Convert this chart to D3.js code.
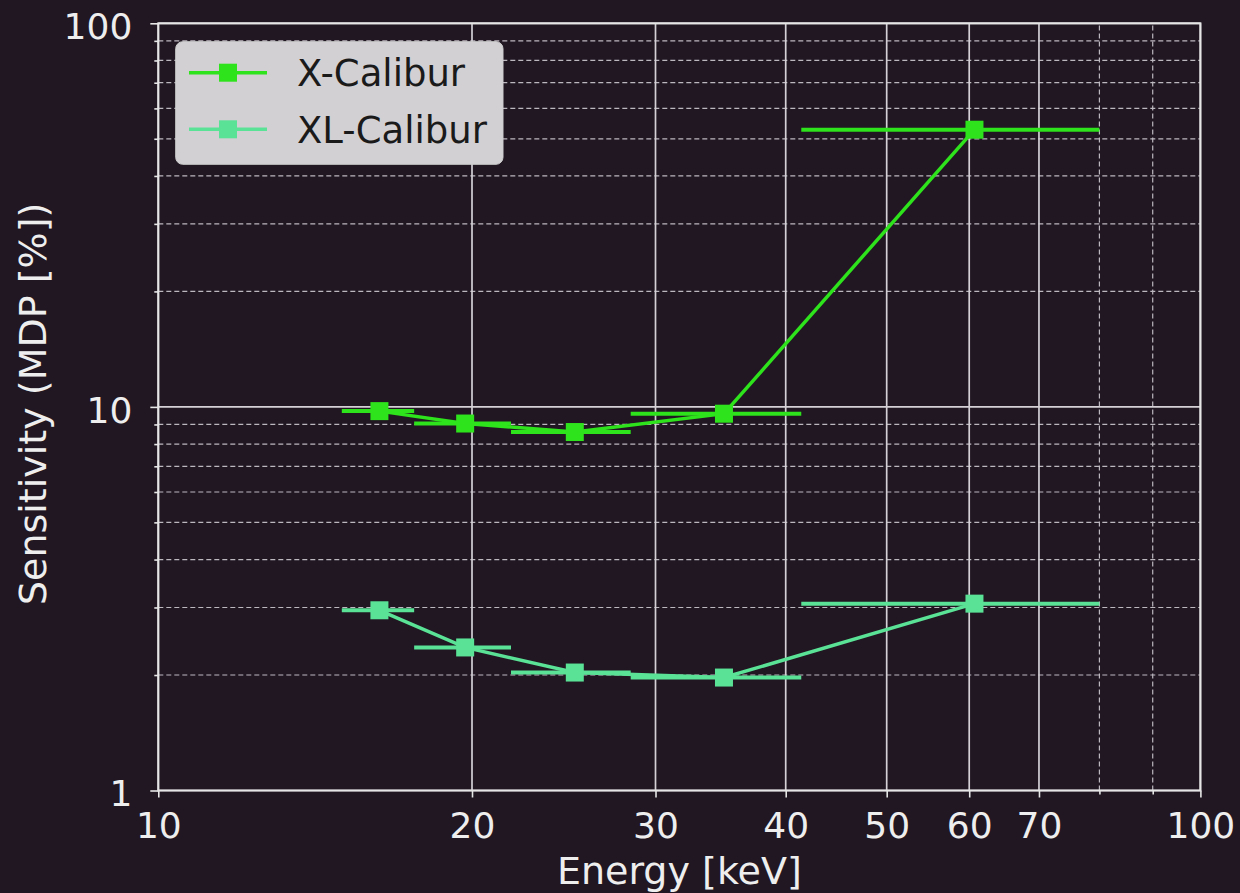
<!DOCTYPE html>
<html>
<head>
<meta charset="utf-8">
<script src="https://cdn.jsdelivr.net/npm/d3@7"></script>
<style>
  body { margin: 0; background: #201722; }
  svg text { font-family: "DejaVu Sans", sans-serif; }
</style>
</head>
<body>
<svg id="chart" width="1240" height="893"></svg>
<script>
// energy bins (keV) and bin centres
const binLo  = [15.0, 17.6, 21.8, 28.4, 41.4];
const binHi  = [17.6, 21.8, 28.4, 41.4, 80.0];
const energy = [16.3, 19.7, 25.1, 34.9, 60.7];

// MDP values [%]
const mdpX  = [9.75, 9.05, 8.6, 9.6, 52.8];
const mdpXL = [2.95, 2.36, 2.03, 1.97, 3.07];

const seriesNames = ["X-Calibur", "XL-Calibur"];

// tick values
const xMajor = [10, 20, 30, 40, 50, 60, 70, 100];
const xMinor = [80, 90];
const yMajor = [1, 10, 100];
const yMinor = [2, 3, 4, 5, 6, 7, 8, 9, 20, 30, 40, 50, 60, 70, 80, 90];

const colors = ["#2ee21c", "#5ae296"];
const tickFont = 36, labelFont = 38, legendFont = 37;
const margin = {top: 23.3, right: 39.6, bottom: 102.5, left: 158.3};

let svg = d3.select("svg#chart");
let width = +svg.attr("width"), height = +svg.attr("height");

let x = d3.scaleLog().domain([10, 100]).range([margin.left, width - margin.right]);
let y = d3.scaleLog().domain([1, 100]).range([height - margin.bottom, margin.top]);

function drawGrid(g) {
  g.selectAll("line.yminor").data(yMinor).enter().append("line")
    .attr("class", "yminor")
    .attr("x1", x.range()[0]).attr("x2", x.range()[1])
    .attr("y1", function(d) { return y(d); }).attr("y2", function(d) { return y(d); })
    .attr("stroke", "#bdb8bf").attr("stroke-width", 1.2).attr("stroke-dasharray", "5,3");

  g.selectAll("line.xminor").data(xMinor).enter().append("line")
    .attr("class", "xminor")
    .attr("y1", y.range()[0]).attr("y2", y.range()[1])
    .attr("x1", function(d) { return x(d); }).attr("x2", function(d) { return x(d); })
    .attr("stroke", "#bdb8bf").attr("stroke-width", 1.2).attr("stroke-dasharray", "5,3");

  g.selectAll("line.ymajor").data(yMajor).enter().append("line")
    .attr("class", "ymajor")
    .attr("x1", x.range()[0]).attr("x2", x.range()[1])
    .attr("y1", function(d) { return y(d); }).attr("y2", function(d) { return y(d); })
    .attr("stroke", "#d4d0d6").attr("stroke-width", 1.7);

  g.selectAll("line.xmajor").data(xMajor).enter().append("line")
    .attr("class", "xmajor")
    .attr("y1", y.range()[0]).attr("y2", y.range()[1])
    .attr("x1", function(d) { return x(d); }).attr("x2", function(d) { return x(d); })
    .attr("stroke", "#d4d0d6").attr("stroke-width", 1.7);
}

function styleAxis(g) {
  g.select(".domain").remove();
  g.selectAll(".tick line").attr("stroke", "#e6e6e6").attr("stroke-width", 1.6);
  g.selectAll(".tick text").attr("fill", "#eeeeee").style("font-size", tickFont + "px");
}

function drawAxes() {
  let fmt = d3.format("d");

  svg.append("g")
    .attr("transform", "translate(0," + y.range()[0] + ")")
    .call(d3.axisBottom(x).tickValues(xMinor).tickSize(4).tickFormat(""))
    .call(styleAxis);

  svg.append("g")
    .attr("transform", "translate(0," + y.range()[0] + ")")
    .call(d3.axisBottom(x).tickValues(xMajor).tickSize(7).tickPadding(14.6).tickFormat(fmt))
    .call(styleAxis);

  svg.append("g")
    .attr("transform", "translate(" + x.range()[0] + ",0)")
    .call(d3.axisLeft(y).tickValues(yMinor).tickSize(4).tickFormat(""))
    .call(styleAxis);

  svg.append("g")
    .attr("transform", "translate(" + x.range()[0] + ",0)")
    .call(d3.axisLeft(y).tickValues(yMajor).tickSize(8).tickPadding(18).tickFormat(fmt))
    .call(styleAxis)
    .selectAll(".tick text").attr("dy", "0.42em");

  // spines
  svg.append("rect")
    .attr("x", x.range()[0]).attr("y", y.range()[1])
    .attr("width", x.range()[1] - x.range()[0])
    .attr("height", y.range()[0] - y.range()[1])
    .attr("fill", "none").attr("stroke", "#e6e6e6").attr("stroke-width", 2);

  svg.append("text")
    .attr("x", (x.range()[0] + x.range()[1]) / 2)
    .attr("y", 884)
    .attr("text-anchor", "middle")
    .attr("fill", "#eeeeee")
    .style("font-size", labelFont + "px")
    .text("Energy [keV]");

  svg.append("text")
    .attr("transform", "translate(46," + ((y.range()[0] + y.range()[1]) / 2 - 3) + ") rotate(-90)")
    .attr("text-anchor", "middle")
    .attr("fill", "#eeeeee")
    .style("font-size", labelFont + "px")
    .text("Sensitivity (MDP [%])");
}

function drawSeries(values, color) {
  let data = values.map(function(v, i) {
    return {e: energy[i], lo: binLo[i], hi: binHi[i], v: v};
  });
  let g = svg.append("g");

  let line = d3.line()
    .x(function(d) { return x(d.e); })
    .y(function(d) { return y(d.v); });

  g.append("path").datum(data)
    .attr("d", line)
    .attr("fill", "none")
    .attr("stroke", color)
    .attr("stroke-width", 3.5);

  g.selectAll("line.err").data(data).enter().append("line")
    .attr("class", "err")
    .attr("x1", function(d) { return x(d.lo); })
    .attr("x2", function(d) { return x(d.hi); })
    .attr("y1", function(d) { return y(d.v); })
    .attr("y2", function(d) { return y(d.v); })
    .attr("stroke", color)
    .attr("stroke-width", 4);

  g.selectAll("rect").data(data).enter().append("rect")
    .attr("x", function(d) { return x(d.e) - 9; })
    .attr("y", function(d) { return y(d.v) - 9; })
    .attr("width", 18).attr("height", 18)
    .attr("fill", color);
}

function drawLegend() {
  let lg = svg.append("g").attr("class", "legend");
  lg.append("rect")
    .attr("x", 175.7).attr("y", 41.7)
    .attr("width", 327.3).attr("height", 122.6)
    .attr("rx", 7).attr("ry", 7)
    .attr("fill", "#d3d0d3")
    .attr("stroke", "#cccccc").attr("stroke-width", 1);

  let items = lg.selectAll("g.item").data(seriesNames).enter().append("g")
    .attr("class", "item")
    .attr("transform", function(d, i) { return "translate(0," + (72.7 + 56.6 * i) + ")"; });

  items.append("line")
    .attr("x1", 189).attr("x2", 267).attr("y1", 0).attr("y2", 0)
    .attr("stroke", function(d, i) { return colors[i]; })
    .attr("stroke-width", 3.5);

  items.append("rect")
    .attr("x", 219).attr("y", -9).attr("width", 18).attr("height", 18)
    .attr("fill", function(d, i) { return colors[i]; });

  items.append("text")
    .attr("x", 297).attr("y", 13.5)
    .attr("fill", "#1a1a1a")
    .style("font-size", legendFont + "px")
    .text(function(d) { return d; });
}

drawGrid(svg.append("g").attr("class", "grid"));
drawAxes();
drawSeries(mdpXL, colors[1]);
drawSeries(mdpX, colors[0]);
drawLegend();
</script>
</body>
</html>
